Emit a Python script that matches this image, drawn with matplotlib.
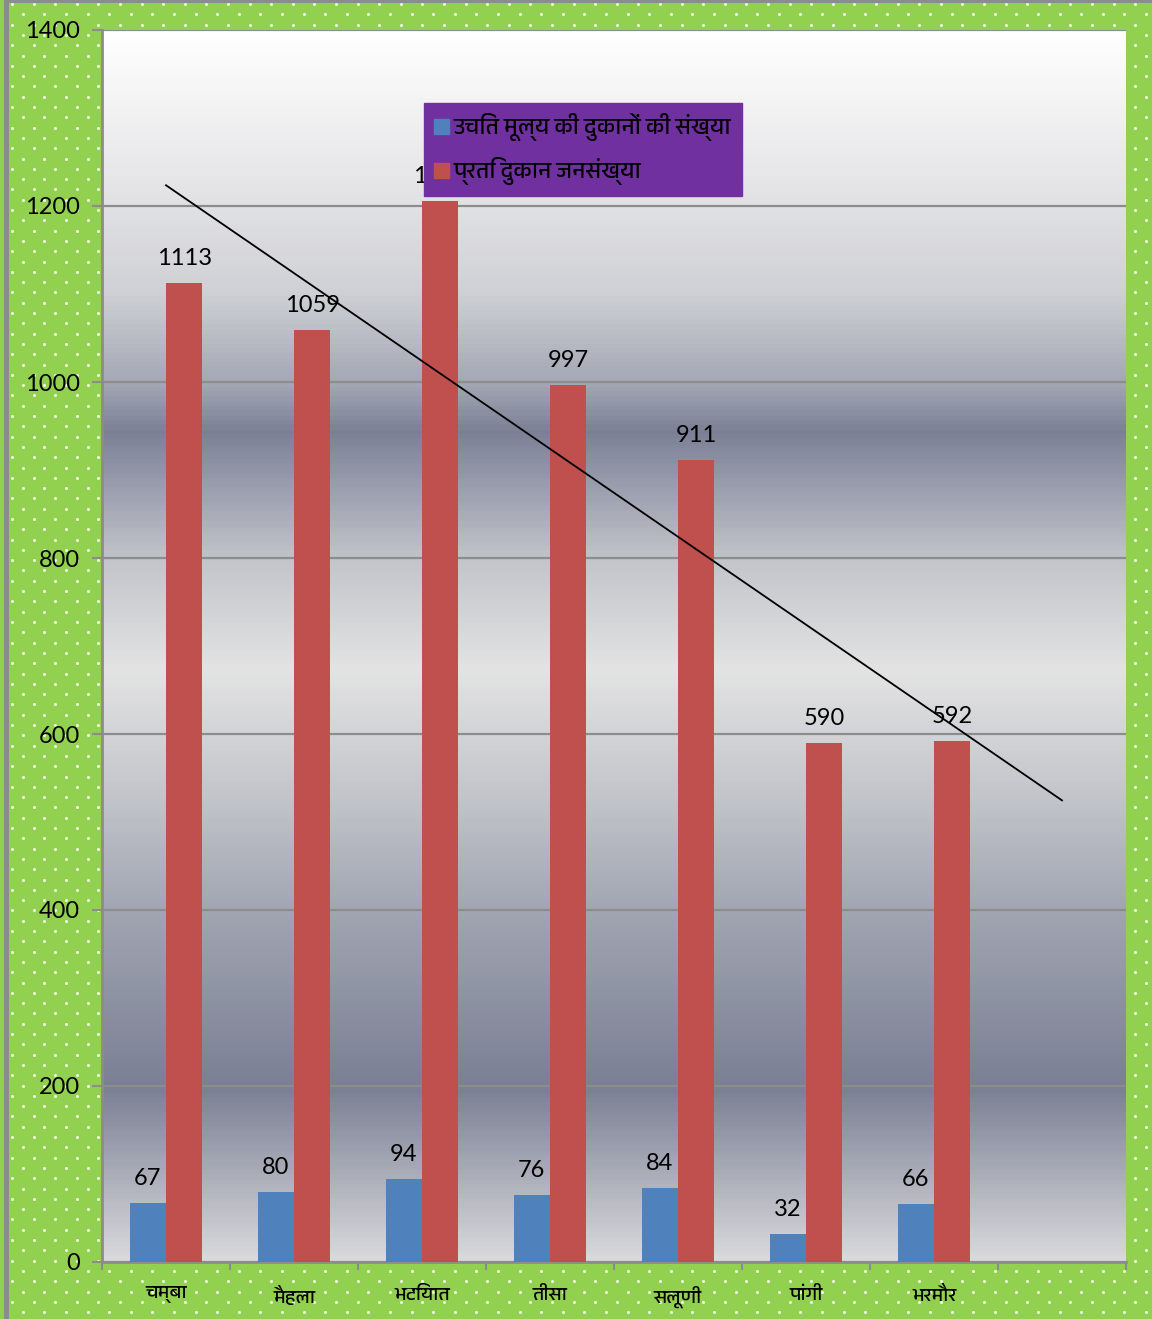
import numpy as np
import matplotlib
matplotlib.use("Agg")
import matplotlib.pyplot as plt
from matplotlib import font_manager, ft2font
from matplotlib.colors import LinearSegmentedColormap
from matplotlib.patches import Rectangle, Patch

# data
categories = ['चम्बा', 'मैहला', 'भटियात', 'तीसा', 'सलूणी', 'पांगी', 'भरमौर', '']
shops = [67, 80, 94, 76, 84, 32, 66]
per_shop = [1113, 1059, 1206, 997, 911, 590, 592]
series_names = ['उचित मूल्य की दुकानों की संख्या', 'प्रति दुकान जनसंख्या']
yticks = [0, 200, 400, 600, 800, 1000, 1200, 1400]


def find_deva_font():
    # look for any installed font with devanagari glyphs
    names = []
    for f in font_manager.fontManager.ttflist:
        try:
            if 0x0915 in ft2font.FT2Font(f.fname).get_charmap():
                names.append(f.name)
        except Exception:
            pass
    names.sort(key=lambda n: 0 if 'Devanagari' in n else 1)
    return names[0] if names else 'DejaVu Sans'


deva = find_deva_font()
num_font = ['Lato', 'DejaVu Sans']
plt.rcParams['font.family'] = [deva, 'DejaVu Sans']

W, H = 1152, 1319
fig = plt.figure(figsize=(W / 100, H / 100), dpi=100)
fig.patch.set_facecolor('#92d050')

# dotted background pattern (behind the axes)
dx, dy = 21.6, 10.3
xs, ys = [], []
for r, yy in enumerate(np.arange(4, H, dy)):
    off = 0 if r % 2 == 0 else dx / 2
    for xx in np.arange(12 + off, W, dx):
        xs.append(xx / W)
        ys.append(1 - yy / H)
fig.add_artist(plt.Line2D(xs, ys, ls='none', marker='o', ms=2.2, mew=0,
                          mfc='#eef8e2', transform=fig.transFigure,
                          zorder=-5))

# outer border
fig.add_artist(Rectangle((4 / W, 0), 5 / W, 1, transform=fig.transFigure,
                         color='#8c8c8c', lw=0, zorder=-4))
fig.add_artist(Rectangle((4 / W, 1 - 3 / H), 1 - 4 / W, 3 / H,
                         transform=fig.transFigure, color='#8c8c8c', lw=0,
                         zorder=-4))

ax = fig.add_axes([102 / W, 1 - 1262 / H, 1024 / W, 1232 / H])

# plot area gradient (top to bottom)
stops = [(0.0, '#ffffff'), (0.12, '#e6e6e8'), (0.21, '#d0d1d6'),
         (0.286, '#a3a7b4'), (0.325, '#7b8096'), (0.43, '#c3c5cb'),
         (0.52, '#e3e3e3'), (0.625, '#c2c4ca'), (0.714, '#a2a6b2'),
         (0.86, '#7a7f94'), (1.0, '#d9d9dc')]
cmap = LinearSegmentedColormap.from_list('bg', stops)
grad = np.linspace(0, 1, 600).reshape(-1, 1)
ax.imshow(grad, cmap=cmap, aspect='auto', extent=[0, 1, 0, 1],
          transform=ax.transAxes, zorder=0)

x = np.arange(len(shops))
bw = 0.285
b1 = ax.bar(x - bw / 2, shops, bw, color='#4f81bd', zorder=3)
b2 = ax.bar(x + bw / 2, per_shop, bw, color='#c0504d', zorder=3)

for bars, vals in ((b1, shops), (b2, per_shop)):
    for rect, v in zip(bars, vals):
        ax.annotate(str(v), (rect.get_x() + rect.get_width() / 2, v),
                    xytext=(0, 10), textcoords='offset points', ha='center',
                    va='bottom', fontsize=17, family=num_font, zorder=4)

# linear trendline on the red series, extended one category forward
k, b = np.polyfit(x, per_shop, 1)
tx = np.array([0, len(categories) - 1])
ax.plot(tx, k * tx + b, color='black', lw=1.3, zorder=5)

ax.set_xlim(-0.5, len(categories) - 0.5)
ax.set_ylim(0, 1400)
ax.set_yticks(yticks)
ax.set_yticklabels([str(t) for t in yticks], fontsize=17, family=num_font)
ax.set_xticks(np.arange(len(categories) + 1) - 0.5, minor=False)
ax.set_xticklabels([])
ax.set_xticks(np.arange(len(categories)), minor=True)
ax.set_xticklabels(categories, minor=True, fontsize=14)
ax.tick_params(axis='x', which='major', length=6, width=1.5, color='#8c8c8c')
ax.tick_params(axis='x', which='minor', length=0, pad=17)
ax.tick_params(axis='y', length=7, width=1.5, color='#8c8c8c', pad=9)

ax.yaxis.grid(True, color='#8c8c8c', lw=1.6, zorder=1)
ax.set_axisbelow(True)
for s in ('top', 'right'):
    ax.spines[s].set_visible(False)
for s in ('left', 'bottom'):
    ax.spines[s].set_color('#8c8c8c')
    ax.spines[s].set_linewidth(2)

handles = [Patch(color='#4f81bd'), Patch(color='#c0504d')]
leg = ax.legend(handles, series_names, loc='upper left',
                bbox_to_anchor=(424 / W, 1 - 103 / H),
                bbox_transform=fig.transFigure, fontsize=16.5, frameon=True,
                fancybox=False, facecolor='#7030a0', edgecolor='#7030a0',
                framealpha=1, handlelength=0.65, handleheight=0.65,
                handletextpad=0.2, labelspacing=0.7, borderpad=0.45,
                borderaxespad=0)
leg.set_zorder(10)

fig.savefig('out.png', dpi=100, facecolor=fig.get_facecolor())
